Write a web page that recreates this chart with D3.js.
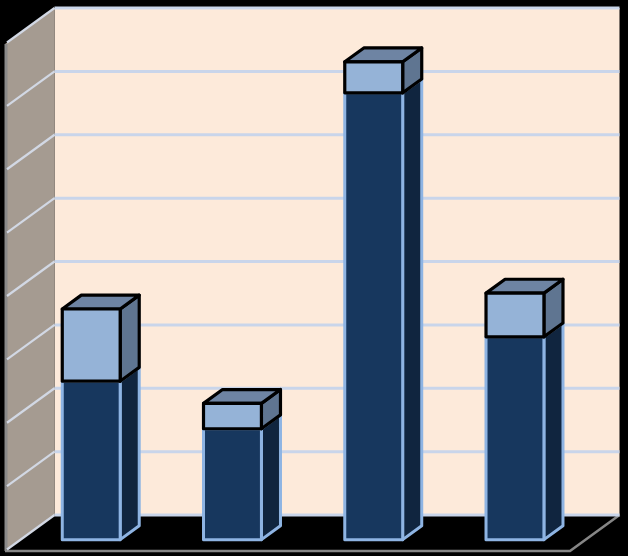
<!DOCTYPE html>
<html><head><meta charset="utf-8">
<script src="https://cdn.jsdelivr.net/npm/d3@7"></script>
<style>html,body{margin:0;padding:0;background:#000}svg{display:block}</style>
</head><body><svg id="c" width="628" height="556"></svg>
<script>
const categories = ["A","B","C","D"];
const lowerValues = [25, 17.5, 70.5, 32];
const upperValues = [11.4, 4, 4.9, 6.9];
const gridTicks = [0,10,20,30,40,50,60,70,80];

const W = 628, H = 556;
const svg = d3.select("#c");
svg.append("rect").attr("width",W).attr("height",H).attr("fill","#000");

const x = d3.scaleBand().domain(categories).range([5,570]).paddingInner(0.59).paddingOuter(0.295);
const y = d3.scaleLinear().domain([0,80]).range([551,44]);
const depthX = d3.scaleLinear().domain([0,1]).range([0,49.5]);
const depthY = d3.scaleLinear().domain([0,1]).range([0,-36]);
const px = (xv,d)=>xv+depthX(d);
const py = (v,d)=>y(v)+depthY(d);
const poly = pts => pts.map(p=>p.join(",")).join(" ");
const xL = 5, xR = 570;

// back wall
svg.append("polygon").attr("points",poly([[px(xL,1),py(80,1)],[px(xR,1),py(80,1)],[px(xR,1),py(0,1)],[px(xL,1),py(0,1)]])).attr("fill","#FDEADA");
// side wall
svg.append("polygon").attr("points",poly([[px(xL,0),py(0,0)],[px(xL,1),py(0,1)],[px(xL,1),py(80,1)],[px(xL,0),py(80,0)]])).attr("fill","#A59B91");
svg.append("line").attr("x1",xL+1).attr("x2",xL+1).attr("y1",y(80)).attr("y2",y(0)).attr("stroke","#8a8a8a").attr("stroke-width",3);
// floor
svg.append("polygon").attr("points",poly([[px(xL,0),py(0,0)],[px(xR,0),py(0,0)],[px(xR,1),py(0,1)],[px(xL,1),py(0,1)]])).attr("fill","#000");
svg.append("polyline").attr("points",poly([[px(xL,0),py(0,0)],[px(xR,0),py(0,0)],[px(xR,1),py(0,1)]])).attr("fill","none").attr("stroke","#868686").attr("stroke-width",2.6);
// grid lines
svg.selectAll(".gb").data(gridTicks).join("line").attr("class","gb")
  .attr("x1",px(xL,1)).attr("x2",px(xR,1)).attr("y1",d=>py(d,1)).attr("y2",d=>py(d,1))
  .attr("stroke","#C9D5EA").attr("stroke-width",3);
svg.selectAll(".gs").data(gridTicks).join("line").attr("class","gs")
  .attr("x1",px(xL,0)+2).attr("x2",px(xL,1)).attr("y1",d=>py(d,0)-1.5).attr("y2",d=>py(d,1))
  .attr("stroke","#D2D8E4").attr("stroke-width",2.2);

function box(g, cat, v0, v1, cols){
  const a = x(cat), b = a + x.bandwidth();
  const d0 = 0.315, d1 = 0.7;
  const f = [[px(a,d0),py(v1,d0)],[px(b,d0),py(v1,d0)],[px(b,d0),py(v0,d0)],[px(a,d0),py(v0,d0)]];
  const s = [[px(b,d0),py(v1,d0)],[px(b,d1),py(v1,d1)],[px(b,d1),py(v0,d1)],[px(b,d0),py(v0,d0)]];
  const t = [[px(a,d0),py(v1,d0)],[px(a,d1),py(v1,d1)],[px(b,d1),py(v1,d1)],[px(b,d0),py(v1,d0)]];
  const attrs = sel => sel.attr("stroke",cols.stroke).attr("stroke-width",cols.sw).attr("stroke-linejoin","round");
  g.append("polygon").attr("points",poly(s)).attr("fill",cols.side).call(attrs);
  if(cols.top) g.append("polygon").attr("points",poly(t)).attr("fill",cols.top).call(attrs);
  g.append("polygon").attr("points",poly(f)).attr("fill",cols.front).call(attrs);
}
const lowerCols = {front:"#17375E",side:"#10253F",stroke:"#8EB4E3",sw:3};
const upperCols = {front:"#95B3D7",side:"#5F7591",top:"#6E84A3",stroke:"#000",sw:3.2};
categories.forEach((c,i)=>{
  const g = svg.append("g");
  box(g,c,0,lowerValues[i],lowerCols);
  box(g,c,lowerValues[i],lowerValues[i]+upperValues[i],upperCols);
});
</script></body></html>
